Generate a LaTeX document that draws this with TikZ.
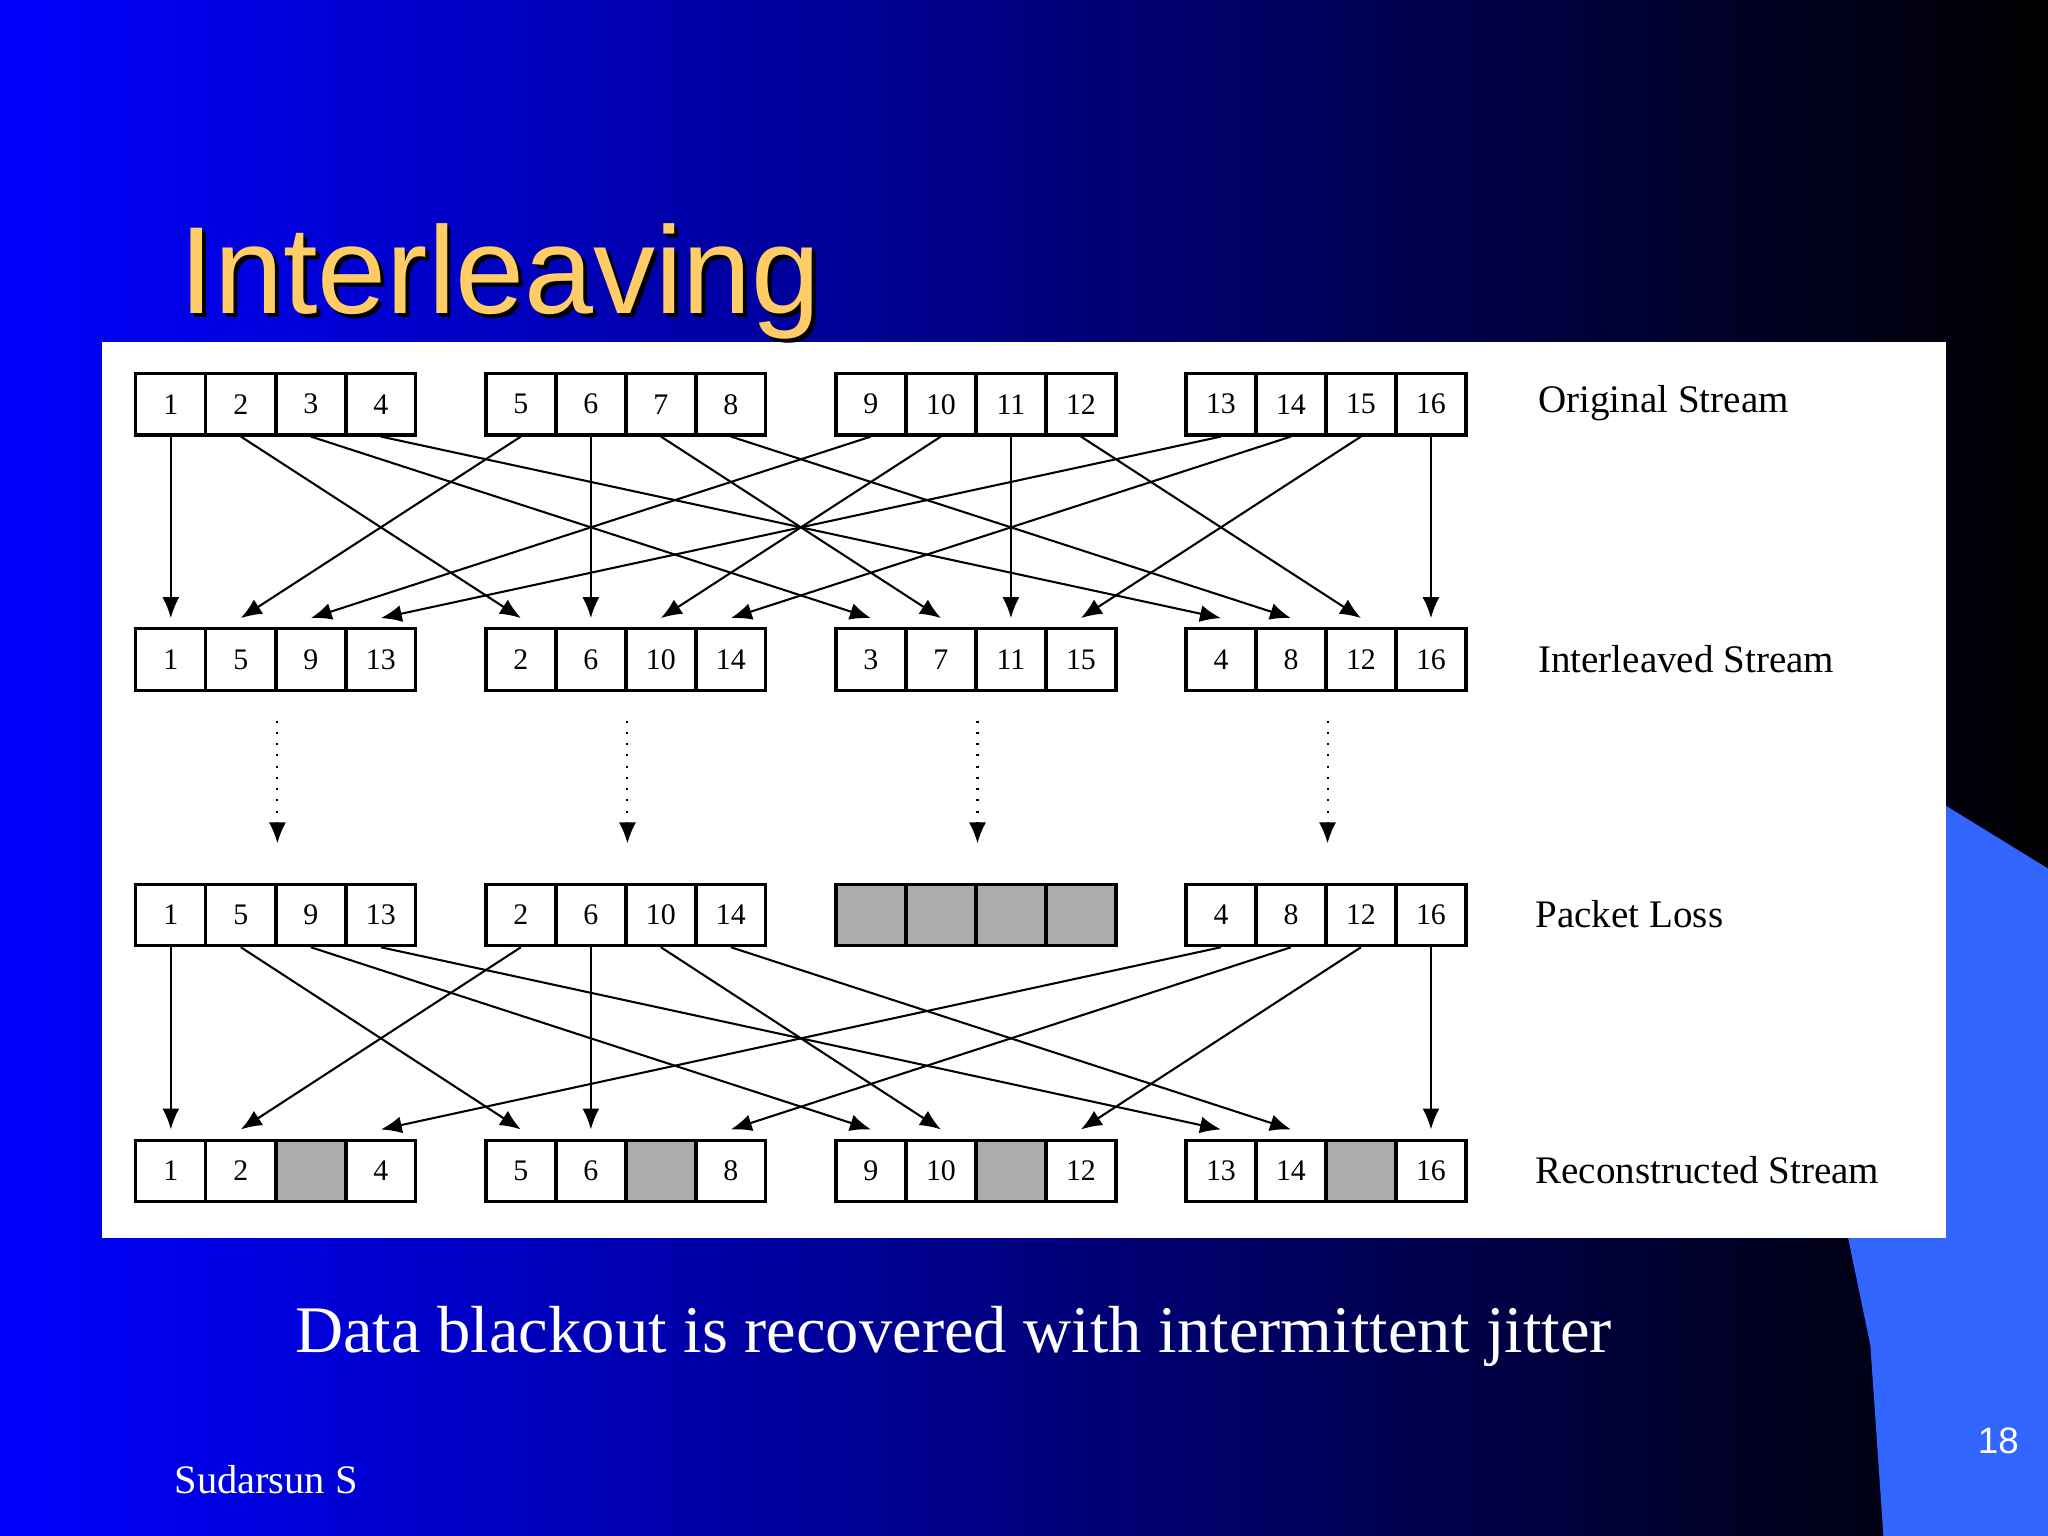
\documentclass[tikz,border=0pt]{standalone}
\usepackage{fontspec}
\setmainfont{Liberation Serif}
\newfontfamily\titlefont{Liberation Sans}
\usetikzlibrary{arrows.meta,shadings,calc}
\definecolor{titleyellow}{RGB}{255,204,102}
\definecolor{sideblue}{RGB}{51,102,255}
\tikzset{
  cell/.style={draw=black,line width=0.7pt,minimum width=0.535cm,minimum height=0.47cm,inner sep=0pt,font=\fontsize{6.5}{7}\selectfont},
  lost/.style={cell,fill=gray!65},
  conn/.style={-{Latex[length=1.6mm,width=1.3mm]},line width=0.45pt},
  dconn/.style={conn,dotted},
  rowlabel/.style={anchor=west,inner sep=0pt,font=\fontsize{8.5}{10}\selectfont},
}
\begin{document}
\begin{tikzpicture}[x=0.01cm,y=-0.01cm]
\useasboundingbox (0,0) rectangle (1568,1176);
\shade[left color=blue, right color=black] (0,0) rectangle (1568,1176);
\fill[sideblue] (1490,617) -- (1568,665) -- (1568,1176) -- (1442,1176) -- (1432,1030) -- (1415,948) -- (1490,948) -- cycle;
\fill[white] (78,262) rectangle (1490,948);
\node[anchor=base west,inner sep=0pt,font=\titlefont\fontsize{27}{30}\selectfont,text=black] at (140,243) {Interleaving};
\node[anchor=base west,inner sep=0pt,font=\titlefont\fontsize{27}{30}\selectfont,text=titleyellow] at (137,240) {Interleaving};
% cells
\foreach \r/\yy in {1/309.5,2/505,3/700.5,4/896.5}{
  \foreach \g in {0,...,3}{
    \foreach \i in {0,...,3}{
      \pgfmathsetmacro{\xx}{104+268*\g+53.6*\i+26.8}
      \ifnum\r=1 \pgfmathtruncatemacro{\v}{4*\g+\i+1}\fi
      \ifnum\r=2 \pgfmathtruncatemacro{\v}{4*\i+\g+1}\fi
      \ifnum\r=3 \pgfmathtruncatemacro{\v}{4*\i+\g+1}\fi
      \ifnum\r=4 \pgfmathtruncatemacro{\v}{4*\g+\i+1}\fi
      \ifnum\r=3 \ifnum\g=2
        \node[lost] (c\r-\g-\i) at (\xx,\yy) {};
      \else
        \node[cell] (c\r-\g-\i) at (\xx,\yy) {\v};
      \fi\fi
      \ifnum\r=4 \ifnum\i=2
        \node[lost] (c\r-\g-\i) at (\xx,\yy) {};
      \else
        \node[cell] (c\r-\g-\i) at (\xx,\yy) {\v};
      \fi\fi
      \ifnum\r<3
        \node[cell] (c\r-\g-\i) at (\xx,\yy) {\v};
      \fi
    }
  }
}
% top arrows
\foreach \g in {0,...,3}{\foreach \i in {0,...,3}{
  \draw[conn] (c1-\g-\i.south) -- ([yshift=0.07cm]c2-\i-\g.north);
}}
% dotted
\foreach \g in {0,...,3}{
  \coordinate (ds\g) at ($(c2-\g-1.south east)+(0,-0.22cm)$);
  \coordinate (de\g) at ($(c3-\g-1.north east)+(0,0.3cm)$);
  \draw[dconn] (ds\g) -- (de\g);
}
% bottom arrows
\foreach \g in {0,...,3}{\foreach \i in {0,1,3}{
  \draw[conn] (c3-\i-\g.south) -- ([yshift=0.07cm]c4-\g-\i.north);
}}
\node[rowlabel] (l1) at (1177,309) {Original Stream};
\node[rowlabel] (l2) at (1177,505) {Interleaved Stream};
\node[rowlabel] (l3) at (1175,700) {Packet Loss};
\node[rowlabel] (l4) at (1175,896) {Reconstructed Stream};
\node[text=white,font=\fontsize{14.5}{17}\selectfont] (cap) at (730,1023) {Data blackout is recovered with intermittent jitter};
\node[text=white,anchor=west,inner sep=0pt,font=\fontsize{8.8}{10}\selectfont] (auth) at (133,1133) {Sudarsun S};
\node[text=white,font=\titlefont\fontsize{8}{10}\selectfont] (pg) at (1530,1103) {18};
\end{tikzpicture}
\end{document}
